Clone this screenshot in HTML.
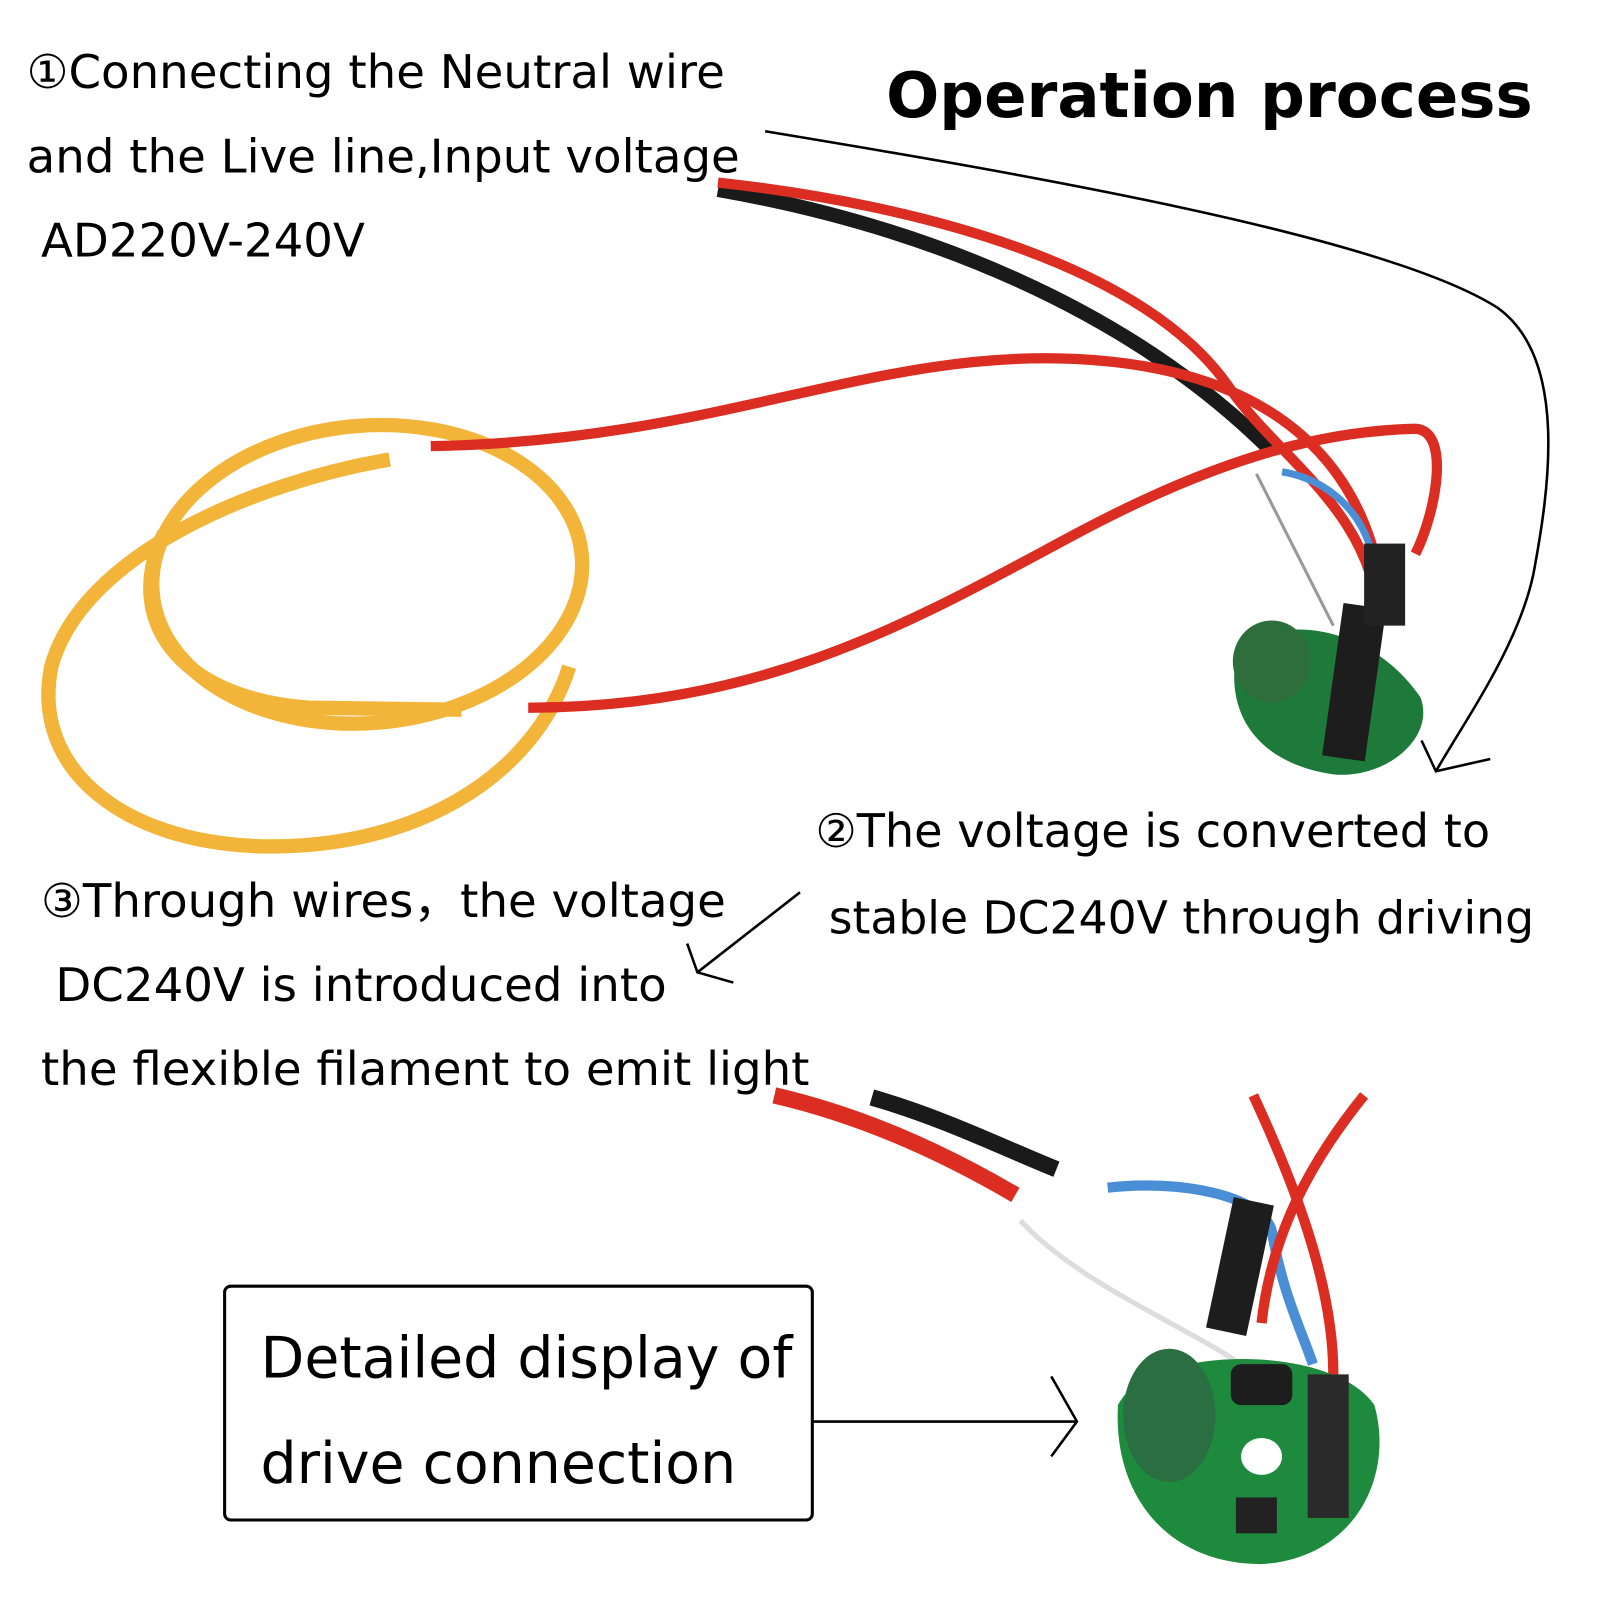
<!DOCTYPE html>
<html><head><meta charset="utf-8"><style>
html,body{margin:0;padding:0;background:#fff}
svg{display:block}
text{font-family:"DejaVu Sans","Liberation Sans",sans-serif;fill:#000}
</style></head><body>
<svg width="1600" height="1600" viewBox="0 0 1560 1560" xmlns="http://www.w3.org/2000/svg">
<rect width="1560" height="1560" fill="#fff"/>
<text x="864" y="114" font-size="61" font-weight="bold">Operation process</text>
<text x="26" y="86" font-size="45.5">①Connecting the Neutral wire</text>
<text x="26" y="168" font-size="45.5">and the Live line,Input voltage</text>
<text x="40" y="250" font-size="45.5">AD220V-240V</text>
<text x="795" y="826" font-size="45">②The voltage is converted to</text>
<text x="808" y="910" font-size="44.5">stable DC240V through driving</text>
<text x="40" y="894" font-size="45.5">③Through wires，the voltage</text>
<text x="54" y="976" font-size="45.5">DC240V is introduced into</text>
<text x="40" y="1058" font-size="45.5">the flexible filament to emit light</text>
<rect x="219" y="1254" width="573" height="228" rx="6" fill="none" stroke="#000" stroke-width="3"/>
<text x="254" y="1343" font-size="55.5">Detailed display of</text>
<text x="254" y="1446" font-size="55.5">drive connection</text>
<path d="M746 128 C1000 170 1350 230 1460 300 C1530 350 1510 480 1495 560 C1480 630 1430 700 1400 752" fill="none" stroke="#000" stroke-width="2.5"/>
<path d="M1386 722 L1400 752 L1453 740" fill="none" stroke="#000" stroke-width="2.5"/>
<path d="M780 870 L680 948 M670 920 L680 948 L715 958" fill="none" stroke="#000" stroke-width="2.5"/>
<path d="M792 1386 L1050 1386 M1025 1342 L1050 1386 L1025 1420" fill="none" stroke="#000" stroke-width="2.5"/>
<ellipse cx="358" cy="560" rx="210" ry="145" transform="rotate(-5 358 560)" fill="none" stroke="#f2b53a" stroke-width="14"/>
<path d="M380 448 C250 470 80 540 50 650 C30 750 120 820 250 825 C400 830 520 760 555 650" fill="none" stroke="#f2b53a" stroke-width="14"/>
<path d="M160 520 C120 600 170 680 300 690 L450 692" fill="none" stroke="#f2b53a" stroke-width="14"/>
<path d="M700 185 C900 220 1100 300 1240 440" fill="none" stroke="#1a1a1a" stroke-width="14"/>
<path d="M700 178 C900 200 1120 260 1200 380 C1250 450 1340 500 1345 610" fill="none" stroke="#dc2d22" stroke-width="10"/>
<path d="M420 435 C700 430 850 340 1050 350 C1250 360 1340 460 1350 600" fill="none" stroke="#dc2d22" stroke-width="10"/>
<path d="M515 690 C750 690 900 600 1050 520 C1200 440 1300 420 1380 418 C1415 420 1400 500 1380 540" fill="none" stroke="#dc2d22" stroke-width="10"/>
<path d="M1250 460 C1310 470 1340 520 1340 560 L1360 600" fill="none" stroke="#4a8fd6" stroke-width="7"/>
<path d="M1225 462 L1300 610" fill="none" stroke="#999" stroke-width="3"/>
<path d="M1205 640 C1230 600 1330 600 1385 680 C1400 720 1350 760 1300 755 C1230 745 1195 700 1205 640Z" fill="#1e7a3a"/>
<ellipse cx="1240" cy="645" rx="38" ry="40" fill="#2d6e3c"/>
<rect x="1300" y="590" width="42" height="150" fill="#1d1d1d" transform="rotate(8 1320 660)"/>
<rect x="1330" y="530" width="40" height="80" fill="#222"/>
<path d="M755 1068 C850 1090 930 1130 990 1165" fill="none" stroke="#dc2d22" stroke-width="16"/>
<path d="M850 1070 C920 1090 980 1120 1030 1140" fill="none" stroke="#1a1a1a" stroke-width="16"/>
<path d="M1080 1158 C1150 1150 1230 1165 1240 1200 C1250 1260 1270 1300 1280 1330" fill="none" stroke="#4a8fd6" stroke-width="10"/>
<path d="M995 1190 C1050 1250 1150 1290 1210 1330" fill="none" stroke="#ddd" stroke-width="5"/>
<path d="M1222 1068 C1260 1150 1300 1250 1300 1340" fill="none" stroke="#dc2d22" stroke-width="10"/>
<path d="M1330 1068 C1280 1130 1240 1200 1230 1290" fill="none" stroke="#dc2d22" stroke-width="10"/>
<path d="M1090 1370 C1120 1310 1300 1310 1340 1370 C1360 1440 1320 1520 1230 1525 C1140 1525 1085 1460 1090 1370Z" fill="#1e8a3e"/>
<ellipse cx="1140" cy="1380" rx="45" ry="65" fill="#2b6e42"/>
<ellipse cx="1230" cy="1420" rx="20" ry="18" fill="#fff"/>
<rect x="1200" y="1330" width="60" height="40" rx="10" fill="#1d1d1d"/>
<rect x="1275" y="1340" width="40" height="140" fill="#2a2a2a"/>
<rect x="1190" y="1170" width="40" height="130" fill="#1d1d1d" transform="rotate(12 1210 1230)"/>
<rect x="1205" y="1460" width="40" height="35" fill="#222"/>
</svg>
</body></html>
